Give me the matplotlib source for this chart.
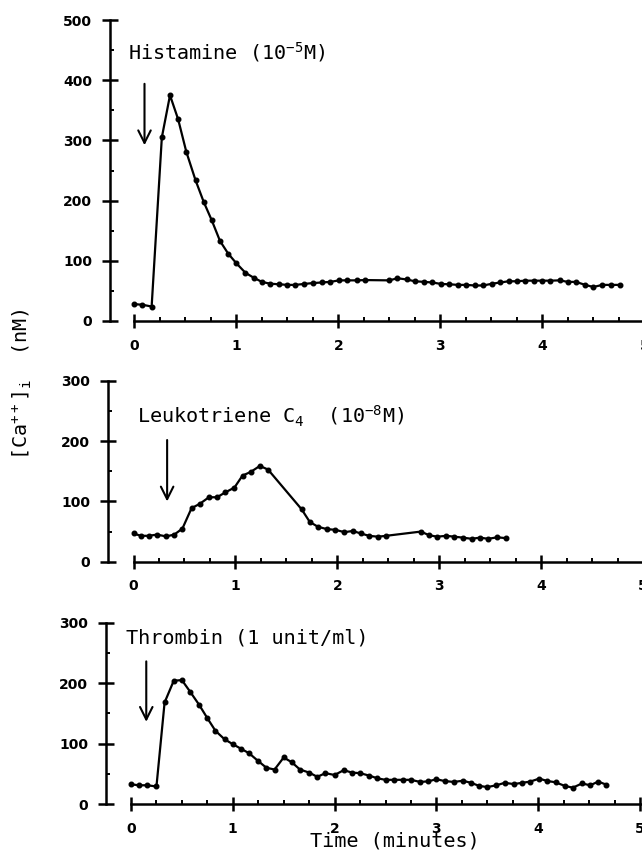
import matplotlib
matplotlib.use("Agg")
import matplotlib.pyplot as plt
from matplotlib.ticker import MultipleLocator

# data: time (min) and [Ca++]i (nM)
hist_t = [0.00, 0.08, 0.17, 0.27, 0.35, 0.43, 0.51, 0.60, 0.68, 0.76,
          0.84, 0.92, 1.00, 1.09, 1.17, 1.25, 1.33, 1.42, 1.50, 1.58,
          1.66, 1.75, 1.84, 1.92, 2.01, 2.09, 2.18, 2.26, 2.50, 2.58,
          2.67, 2.75, 2.84, 2.92, 3.01, 3.09, 3.17, 3.25, 3.34, 3.42,
          3.51, 3.59, 3.67, 3.75, 3.83, 3.92, 4.00, 4.08, 4.17, 4.25,
          4.33, 4.42, 4.50, 4.59, 4.67, 4.76]
hist_ca = [28, 27, 24, 305, 375, 335, 281, 234, 198, 167,
           133, 112, 96, 80, 72, 65, 62, 61, 60, 60,
           61.5, 63, 64, 65, 67.5, 67.5, 67.5, 68, 67.5, 71,
           69, 66, 65, 64, 61.5, 61, 60, 60, 59, 59,
           62, 64, 66, 66, 67, 67, 67, 67, 67.5, 65,
           65, 60, 56.5, 60, 60, 60]

lt_t = [0.00, 0.07, 0.15, 0.23, 0.32, 0.40, 0.48, 0.57, 0.65, 0.74,
        0.82, 0.90, 0.99, 1.07, 1.15, 1.24, 1.32, 1.65, 1.73, 1.81,
        1.90, 1.98, 2.07, 2.15, 2.23, 2.31, 2.40, 2.48, 2.82, 2.90,
        2.98, 3.07, 3.15, 3.23, 3.32, 3.40, 3.48, 3.57, 3.66]
lt_ca = [47, 43, 43, 45, 42, 45, 55, 89, 96, 107,
         107, 115, 123, 143, 149, 159, 153, 87, 66, 58,
         54, 53, 49, 51, 47, 43, 41.5, 43, 50, 44,
         41.5, 43, 41.5, 40, 38, 40, 38, 40.5, 39]

th_t = [0.00, 0.08, 0.16, 0.25, 0.33, 0.42, 0.50, 0.58, 0.67, 0.75,
        0.83, 0.92, 1.00, 1.08, 1.16, 1.25, 1.33, 1.41, 1.50, 1.58,
        1.66, 1.75, 1.83, 1.91, 2.00, 2.09, 2.17, 2.25, 2.34, 2.42,
        2.50, 2.58, 2.67, 2.75, 2.84, 2.92, 3.00, 3.08, 3.17, 3.26,
        3.34, 3.42, 3.50, 3.59, 3.67, 3.76, 3.84, 3.92, 4.01, 4.09,
        4.17, 4.26, 4.34, 4.43, 4.51, 4.59, 4.67]
th_ca = [32.5, 31, 31, 29, 168, 204, 205, 186, 164, 142,
         121, 107, 99, 91.5, 84, 71, 60, 57, 77, 69,
         57, 52, 45, 51, 48, 56, 52, 51, 47, 42.5,
         40, 40, 40, 40, 36.5, 37.5, 41, 38, 36.5, 38.5,
         35, 30, 28, 31, 35, 33, 35, 37, 42, 38,
         36, 30, 27, 34, 31, 37, 32]

labels = ["Histamine (10$^{-5}$M)",
          "Leukotriene C$_4$  (10$^{-8}$M)",
          "Thrombin (1 unit/ml)"]
ymax = [500, 300, 300]
arrow_t = [0.10, 0.33, 0.15]          # time of addition
arrow_y = [(394, 292), (202, 100), (236, 136)]

plt.rcParams['font.family'] = 'DejaVu Sans'
plt.rcParams['mathtext.fontset'] = 'custom'
plt.rcParams['mathtext.rm'] = 'DejaVu Sans Mono'
plt.rcParams['mathtext.default'] = 'regular'

W, H = 642, 852
fig = plt.figure(figsize=(W / 100, H / 100), dpi=100)

# layout in pixels: y spine x, time-0 x, px per minute, top y, zero y
layout = [(110, 134.3, 102.0, 20, 321),
          (108.3, 133.5, 101.9, 381, 561.7),
          (106, 131, 101.8, 622.7, 804)]
label_pos = [(-0.06, 434), (0.03, 229), (-0.05, 266)]

series = [(hist_t, hist_ca), (lt_t, lt_ca), (th_t, th_ca)]

for i, (sx, x0, s, ytop, y0) in enumerate(layout):
    xmax = 5.1
    left = sx / W
    width = (x0 + xmax * s - sx) / W
    ax = fig.add_axes([left, 1 - y0 / H, width, (y0 - ytop) / H])
    t, ca = series[i]
    ax.plot(t, ca, '-o', color='black', lw=1.6, ms=3.3, clip_on=False)
    ax.set_xlim(-(x0 - sx) / s, xmax)
    ax.set_ylim(0, ymax[i])

    for side in ['top', 'right']:
        ax.spines[side].set_visible(False)
    ax.spines['left'].set_linewidth(1.8)
    ax.spines['bottom'].set_linewidth(1.8)
    ax.spines['bottom'].set_bounds(0, xmax)

    ax.xaxis.set_major_locator(MultipleLocator(1))
    ax.xaxis.set_minor_locator(MultipleLocator(0.25))
    ax.yaxis.set_major_locator(MultipleLocator(100))
    ax.yaxis.set_minor_locator(MultipleLocator(50))
    ax.tick_params(axis='y', which='major', direction='inout', length=12,
                   width=1.8, labelsize=10, pad=7)
    ax.tick_params(axis='x', which='major', direction='inout', length=9.5,
                   width=1.8, labelsize=10, pad=8)
    ax.tick_params(which='minor', direction='in', length=3, width=1.4)
    for lab in ax.get_xticklabels() + ax.get_yticklabels():
        lab.set_fontweight('bold')

    ax.annotate('', xy=(arrow_t[i], arrow_y[i][1]),
                xytext=(arrow_t[i], arrow_y[i][0]),
                arrowprops=dict(arrowstyle='->, head_length=0.9, head_width=0.45',
                                lw=1.5, color='black', shrinkA=0, shrinkB=0))
    ax.text(label_pos[i][0], label_pos[i][1], labels[i],
            family='DejaVu Sans Mono', fontsize=14.5, ha='left', va='baseline')

fig.text(28 / W, 1 - 384 / H, "[Ca$^{++}$]$_i$  (nM)", family='DejaVu Sans Mono',
         fontsize=14.5, rotation=90, rotation_mode='anchor',
         ha='center', va='baseline')
fig.text(310 / W, 1 - 846.5 / H, "Time (minutes)", family='DejaVu Sans Mono',
         fontsize=14.5, ha='left', va='baseline')

plt.savefig('out.png', dpi=100)
